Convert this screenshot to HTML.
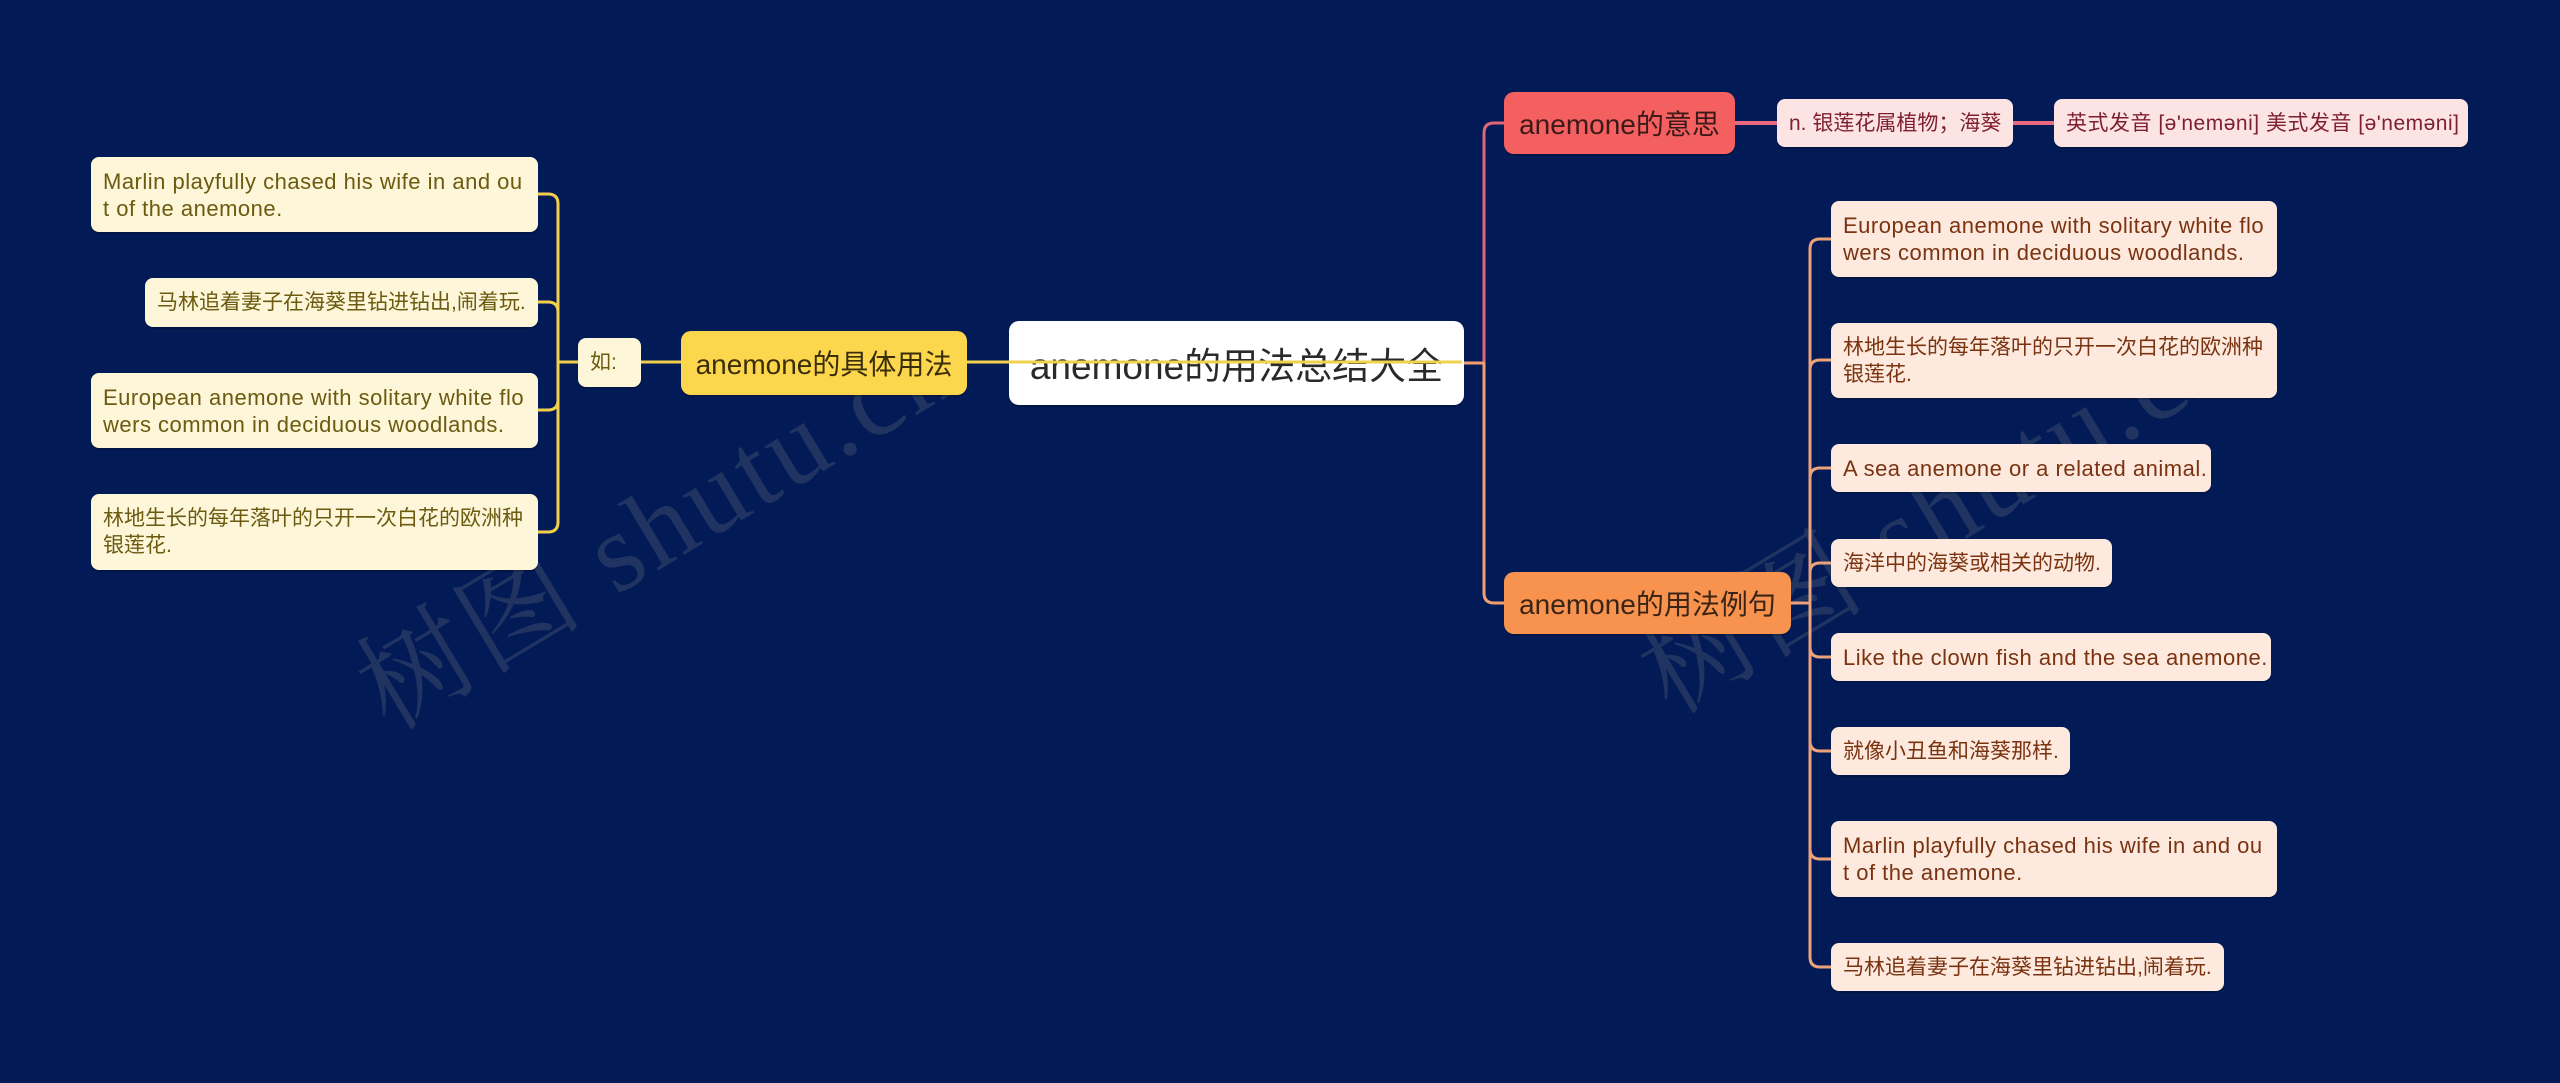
<!DOCTYPE html>
<html>
<head>
<meta charset="utf-8">
<style>
  html, body { margin:0; padding:0; }
  body { width:2560px; height:1083px; background:#021b57; position:relative; overflow:hidden;
         font-family:"Liberation Sans","Noto Sans CJK SC",sans-serif; }
  .n { position:absolute; box-sizing:border-box; display:flex; align-items:center; white-space:nowrap; }
  .s { border-radius:8px; font-size:21px; line-height:27px; padding-left:12px; box-shadow:0 2px 0 rgba(0,0,0,0.18); }
  .lat { font-size:22px; letter-spacing:0.5px; }
  .L { background:#fdf6d8; color:#6b5a10; }
  .R { background:#fde9dd; color:#7a3310; }
  .P { background:#fde4e4; color:#7d1f2e; }
  .big { border-radius:10px; justify-content:center; font-size:28px; box-shadow:0 2px 0 rgba(0,0,0,0.2); }
  .wm { position:absolute; font-family:"Liberation Serif","Noto Serif CJK SC",serif; font-size:112px;
        color:rgba(190,178,150,0.16); white-space:nowrap; letter-spacing:4px; transform:translate(-50%,-50%) rotate(-31deg); }
  svg { position:absolute; left:0; top:0; }
</style>
</head>
<body>

<svg width="2560" height="1083" viewBox="0 0 2560 1083">
  <g fill="none" stroke-width="3" stroke-linecap="round">
    <!-- left branch (yellow) -->
    <g stroke="#f2cf4a">
      <path d="M641,362 H681"/>
      <path d="M578,362 H558"/>
      <path d="M558,362 V204 Q558,194 548,194 H538"/>
      <path d="M558,362 V312 Q558,302 548,302 H538"/>
      <path d="M558,362 V400 Q558,410 548,410 H538"/>
      <path d="M558,362 V522 Q558,532 548,532 H538"/>
    </g>
    <!-- main right trunk -->
    <path d="M1464,363 H1484" stroke="#f0a070"/>
    <path d="M1484,363 V133 Q1484,123 1494,123 H1504" stroke="#e0667a"/>
    <path d="M1484,363 V593 Q1484,603 1494,603 H1504" stroke="#f0a070"/>
    <!-- meaning chain -->
    <path d="M1735,123 H1777" stroke="#e86a80" stroke-width="4"/>
    <path d="M2013,123 H2054" stroke="#e86a80" stroke-width="4"/>
    <!-- examples -->
    <g stroke="#eda27a">
      <path d="M1791,603 H1810"/>
      <path d="M1810,603 V249 Q1810,239 1820,239 H1831"/>
      <path d="M1810,603 V370 Q1810,360 1820,360 H1831"/>
      <path d="M1810,603 V478 Q1810,468 1820,468 H1831"/>
      <path d="M1810,603 V573 Q1810,563 1820,563 H1831"/>
      <path d="M1810,603 V647 Q1810,657 1820,657 H1831"/>
      <path d="M1810,603 V741 Q1810,751 1820,751 H1831"/>
      <path d="M1810,603 V849 Q1810,859 1820,859 H1831"/>
      <path d="M1810,603 V957 Q1810,967 1820,967 H1831"/>
    </g>
  </g>
</svg>

<div class="wm" style="left:653px;top:518px;">树图 shutu.cn</div>
<div class="wm" style="left:1935px;top:502px;">树图 shutu.cn</div>

<!-- left nodes -->
<div class="n s L lat" style="left:91px;top:157px;width:447px;height:75px;">Marlin playfully chased his wife in and ou<br>t of the anemone.</div>
<div class="n s L" style="left:145px;top:278px;width:393px;height:49px;">马林追着妻子在海葵里钻进钻出,闹着玩.</div>
<div class="n s L lat" style="left:91px;top:373px;width:447px;height:75px;">European anemone with solitary white flo<br>wers common in deciduous woodlands.</div>
<div class="n s L" style="left:91px;top:494px;width:447px;height:76px;">林地生长的每年落叶的只开一次白花的欧洲种<br>银莲花.</div>
<div class="n s L" style="left:578px;top:338px;width:63px;height:49px;">如:</div>

<div class="n big" style="left:681px;top:331px;width:286px;height:64px;background:#fcd64c;color:#3a2e08;">anemone的具体用法</div>

<!-- central -->
<div class="n big" style="left:1009px;top:321px;width:455px;height:84px;background:#ffffff;color:#2a2a2a;font-size:37px;">anemone的用法总结大全</div>

<!-- right main -->
<div class="n big" style="left:1504px;top:92px;width:231px;height:62px;background:#f45f60;color:#3d1a1a;">anemone的意思</div>
<div class="n s P" style="left:1777px;top:99px;width:236px;height:48px;">n. 银莲花属植物；海葵</div>
<div class="n s P" style="left:2054px;top:99px;width:414px;height:48px;letter-spacing:0.5px;">英式发音 [ə'nemәni] 美式发音 [ə'nemәni]</div>

<div class="n big" style="left:1504px;top:572px;width:287px;height:62px;background:#f7934f;color:#3b2414;">anemone的用法例句</div>

<div class="n s R lat" style="left:1831px;top:201px;width:446px;height:76px;">European anemone with solitary white flo<br>wers common in deciduous woodlands.</div>
<div class="n s R" style="left:1831px;top:323px;width:446px;height:75px;">林地生长的每年落叶的只开一次白花的欧洲种<br>银莲花.</div>
<div class="n s R lat" style="left:1831px;top:444px;width:380px;height:48px;">A sea anemone or a related animal.</div>
<div class="n s R" style="left:1831px;top:539px;width:281px;height:48px;">海洋中的海葵或相关的动物.</div>
<div class="n s R lat" style="left:1831px;top:633px;width:440px;height:48px;">Like the clown fish and the sea anemone.</div>
<div class="n s R" style="left:1831px;top:727px;width:239px;height:48px;">就像小丑鱼和海葵那样.</div>
<div class="n s R lat" style="left:1831px;top:821px;width:446px;height:76px;">Marlin playfully chased his wife in and ou<br>t of the anemone.</div>
<div class="n s R" style="left:1831px;top:943px;width:393px;height:48px;">马林追着妻子在海葵里钻进钻出,闹着玩.</div>

<!-- yellow line drawn over central node -->
<svg width="2560" height="1083" viewBox="0 0 2560 1083" style="pointer-events:none;">
  <path d="M967,362 H1462" stroke="#f2d14c" stroke-width="3" fill="none"/>
</svg>

</body>
</html>
